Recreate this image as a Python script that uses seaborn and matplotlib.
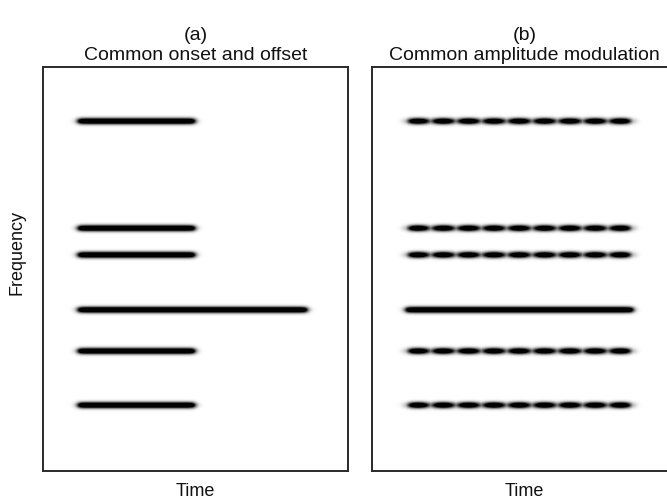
import numpy as np
import matplotlib
matplotlib.use("Agg")
import matplotlib.pyplot as plt
import seaborn as sns

# ---- data (fractions of axis extent) ----
freqs = [0.866, 0.601, 0.535, 0.399, 0.297, 0.163]
onset_a = [0.115, 0.115, 0.115, 0.115, 0.115, 0.115]
offset_a = [0.498, 0.498, 0.498, 0.866, 0.498, 0.498]
onset_b = [0.111, 0.111, 0.111, 0.111, 0.111, 0.111]
offset_b = [0.856, 0.856, 0.856, 0.856, 0.856, 0.856]
modulated_b = [1, 1, 1, 0, 1, 1]
mod_period = 0.083
mod_peak = 0.151

titles = ["(a)\nCommon onset and offset", "(b)\nCommon amplitude modulation"]
xlabel = "Time"
ylabel = "Frequency"

sns.set_theme(style="white")
plt.rcParams["font.family"] = ["Liberation Sans", "DejaVu Sans"]

W, H = 667, 501
NX, NY = 305, 404  # grid resolution


def spectrogram(onsets, offsets, mods):
    t = (np.arange(NX) + 0.5) / NX
    f = 1 - (np.arange(NY) + 0.5) / NY
    T, F = np.meshgrid(t, f)
    img = np.zeros_like(T)
    for f0, on, off, m in zip(freqs, onsets, offsets, mods):
        dy = (F - f0) * NY
        prof = np.exp(-(dy / 3.0) ** 2)
        w = 1.8 / NX
        env = 1 / (1 + np.exp(-(T - on) / w)) * 1 / (1 + np.exp(-(off - T) / w))
        if m:
            c = (1 + np.cos(2 * np.pi * (T - mod_peak) / mod_period)) / 2
            mod = 0.35 + 0.65 * c ** 0.6
        else:
            mod = 1.0
        img = np.maximum(img, prof * env * mod)
    return np.clip(img * 1.6, 0, 1)


fig = plt.figure(figsize=(W / 100, H / 100), dpi=100)
ax_a = fig.add_axes([43 / W, 30 / H, 305 / W, 404 / H])
ax_b = fig.add_axes([372 / W, 30 / H, 305 / W, 404 / H])

for ax, title, data in [
    (ax_a, titles[0], spectrogram(onset_a, offset_a, [0] * 6)),
    (ax_b, titles[1], spectrogram(onset_b, offset_b, modulated_b)),
]:
    sns.heatmap(data, ax=ax, cmap="gray_r", vmin=0, vmax=1, cbar=False,
                xticklabels=False, yticklabels=False, rasterized=True)
    for s in ax.spines.values():
        s.set_visible(True)
        s.set_color("#2a2a2a")
        s.set_linewidth(1.4)
    ax.set_title(title, fontsize=14, pad=5, color="#111111")
    ax.set_xlabel(xlabel, fontsize=13, labelpad=9, color="#111111")

ax_a.set_ylabel(ylabel, fontsize=13, color="#111111")
ax_a.yaxis.set_label_coords(-0.058, 0.54)

fig.savefig("out.png", dpi=100, facecolor="white")
